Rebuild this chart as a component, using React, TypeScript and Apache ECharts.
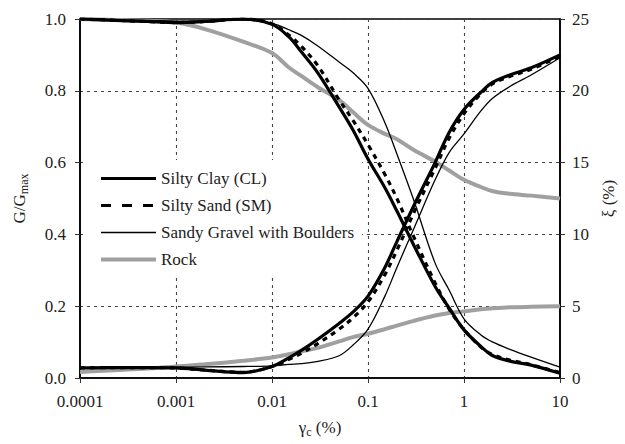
import React, { useEffect, useRef } from "react";
import * as echarts from "echarts";

// Shear strain grid (%)
const strain = [0.0001, 0.0002, 0.0005, 0.001, 0.002, 0.005, 0.01, 0.015, 0.02, 0.03, 0.05, 0.07, 0.1, 0.15, 0.2, 0.3, 0.5, 0.7, 1, 1.5, 2, 3, 5, 10];

// G/Gmax curves
const clayG = [1.0, 0.997, 0.993, 0.99, 0.993, 1.0, 0.985, 0.95, 0.91, 0.85, 0.755, 0.69, 0.61, 0.53, 0.465, 0.37, 0.255, 0.195, 0.134, 0.088, 0.062, 0.047, 0.036, 0.013];
const sandG = [1.0, 0.997, 0.993, 0.99, 0.993, 1.0, 0.987, 0.955, 0.925, 0.87, 0.775, 0.717, 0.65, 0.567, 0.5, 0.393, 0.265, 0.192, 0.135, 0.086, 0.065, 0.05, 0.037, 0.015];
const gravelG = [1.0, 0.998, 0.996, 0.994, 0.995, 0.997, 0.988, 0.97, 0.955, 0.925, 0.88, 0.85, 0.807, 0.711, 0.624, 0.495, 0.32, 0.245, 0.165, 0.12, 0.1, 0.08, 0.058, 0.03];
const rockG = [1.0, 0.998, 0.995, 0.99, 0.972, 0.937, 0.905, 0.865, 0.842, 0.81, 0.775, 0.74, 0.705, 0.68, 0.665, 0.635, 0.603, 0.578, 0.552, 0.532, 0.52, 0.513, 0.508, 0.5];

// Damping ratio curves (%)
const clayD = [0.7, 0.72, 0.72, 0.7, 0.55, 0.38, 0.8, 1.4, 1.9, 2.7, 3.8, 4.6, 5.7, 7.7, 9.5, 12.0, 15.0, 17.1, 18.7, 19.9, 20.6, 21.1, 21.6, 22.5];
const sandD = [0.7, 0.72, 0.72, 0.7, 0.55, 0.4, 0.8, 1.3, 1.7, 2.4, 3.4, 4.2, 5.3, 7.2, 8.9, 11.5, 14.6, 16.7, 18.4, 19.8, 20.5, 21.0, 21.5, 22.4];
const gravelD = [0.7, 0.72, 0.74, 0.75, 0.77, 0.8, 0.85, 0.95, 1.0, 1.15, 1.55, 2.3, 3.4, 5.7, 7.7, 10.4, 13.8, 15.7, 17.0, 18.6, 19.5, 20.3, 21.1, 22.3];
const rockD = [0.42, 0.52, 0.66, 0.8, 0.95, 1.2, 1.43, 1.65, 1.85, 2.1, 2.55, 2.85, 3.08, 3.4, 3.65, 3.98, 4.35, 4.53, 4.64, 4.78, 4.85, 4.92, 4.96, 5.0];

const materials = ["Silty Clay (CL)", "Silty Sand (SM)", "Sandy Gravel with Boulders", "Rock"];
const xTickLabels = ["0.0001", "0.001", "0.01", "0.1", "1", "10"];

const FONT = "'Liberation Serif', 'Times New Roman', Times, serif";

const styles: Record<string, any> = {
  "Silty Clay (CL)": { color: "#000", width: 3.2, type: "solid", legendType: "solid" },
  "Silty Sand (SM)": { color: "#000", width: 3.2, type: [5, 5], legendType: [10, 11] },
  "Sandy Gravel with Boulders": { color: "#000", width: 1.3, type: "solid", legendType: "solid" },
  Rock: { color: "#a0a0a0", width: 4, type: "solid", legendType: "solid" },
};

const gSets = [clayG, sandG, gravelG, rockG];
const dSets = [clayD, sandD, gravelD, rockD];

function pairs(vals: number[]) {
  return strain.map((s, i) => [s, vals[i]]);
}

export default function App() {
  const ref = useRef<HTMLDivElement>(null);
  useEffect(() => {
    if (!ref.current) return;
    const chart = echarts.init(ref.current, undefined, { renderer: "svg" });
    const series: any[] = [];
    materials.forEach((m, i) => {
      const st = styles[m];
      const base = {
        name: m,
        type: "line",
        symbol: "none",
        smooth: 0.35,
        lineStyle: { color: st.color, width: st.width, type: st.type },
        itemStyle: { color: st.color },
        z: m === "Rock" ? 2 : 3,
      };
      series.push({ ...base, yAxisIndex: 0, data: pairs(gSets[i]) });
      series.push({ ...base, yAxisIndex: 1, data: pairs(dSets[i]) });
    });
    const grid = { type: [3, 4] as any, color: "#444", width: 1.1 };
    const rich = {
      a: { fontFamily: FONT, fontSize: 17, color: "#222" },
      s: { fontFamily: FONT, fontSize: 12, color: "#222", verticalAlign: "bottom", lineHeight: 12 },
    };
    chart.setOption({
      animation: false,
      backgroundColor: "#fff",
      textStyle: { fontFamily: FONT },
      grid: {
        left: 77,
        right: 61,
        top: 19,
        bottom: 66,
        show: true,
        borderColor: "#000",
        borderWidth: 1.6,
        backgroundColor: "transparent",
      },
      legend: {
        data: materials.map((m) => ({
          name: m,
          lineStyle: {
            width: styles[m].width,
            type: styles[m].legendType,
            color: styles[m].color,
          },
        })),
        orient: "vertical",
        left: 86,
        top: 160,
        padding: [10, 8, 10, 13],
        backgroundColor: "#fff",
        itemWidth: 55,
        itemHeight: 17,
        itemGap: 10,
        selectedMode: false,
        itemStyle: { opacity: 0 },
        lineStyle: { width: "inherit" },
        textStyle: { fontFamily: FONT, fontSize: 17, color: "#222" },
      },
      xAxis: {
        type: "log",
        logBase: 10,
        min: 0.0001,
        max: 10,
        name: "{a|γ}{s|c}{a| (%)}",
        nameLocation: "middle",
        nameGap: 38,
        nameTextStyle: { lineHeight: 22, rich },
        axisLine: { lineStyle: { color: "#000", width: 1.6 } },
        axisTick: { show: true, length: 5, inside: false, lineStyle: { color: "#333" } },
        axisLabel: {
          margin: 15,
          fontFamily: FONT,
          fontSize: 17,
          color: "#222",
          formatter: (v: number) => xTickLabels[Math.round(Math.log10(v)) + 4] ?? "",
        },
        splitLine: { show: true, lineStyle: grid },
        minorTick: { show: false },
      },
      yAxis: [
        {
          type: "value",
          min: 0,
          max: 1,
          interval: 0.2,
          position: "left",
          name: "{a|G/G}{s|max}",
          nameLocation: "middle",
          nameGap: 50,
          nameRotate: 90,
          nameTextStyle: { lineHeight: 22, rich },
          axisLine: { show: true, lineStyle: { color: "#000", width: 1.6 } },
          axisTick: { show: true, length: 5, lineStyle: { color: "#333" } },
          axisLabel: {
            margin: 14,
            fontFamily: FONT,
            fontSize: 17,
            color: "#222",
            formatter: (v: number) => v.toFixed(1),
          },
          splitLine: { show: true, lineStyle: grid },
        },
        {
          type: "value",
          min: 0,
          max: 25,
          interval: 5,
          position: "right",
          name: "ξ (%)",
          nameLocation: "middle",
          nameGap: 40,
          nameRotate: 90,
          nameTextStyle: { fontFamily: FONT, fontSize: 17, color: "#222" },
          axisLine: { show: true, lineStyle: { color: "#000", width: 1.6 } },
          axisTick: { show: true, length: 5, lineStyle: { color: "#333" } },
          axisLabel: { margin: 12, fontFamily: FONT, fontSize: 17, color: "#222" },
          splitLine: { show: false },
        },
      ],
      series,
    });
    return () => chart.dispose();
  }, []);
  return (
    <div
      ref={ref}
      style={{ position: "fixed", left: 0, top: 0, width: 625, height: 444, background: "#fff" }}
    />
  );
}
